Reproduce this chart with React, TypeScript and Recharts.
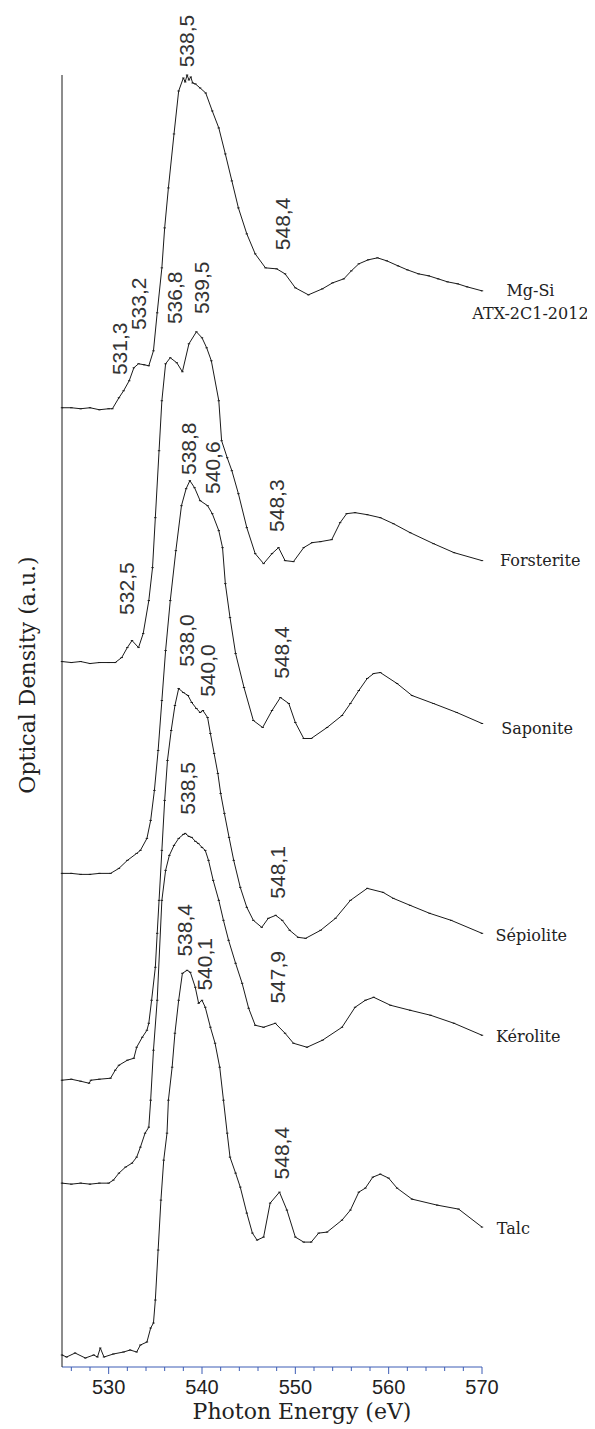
import { LineChart, Line, XAxis, YAxis, ReferenceDot, Label } from "recharts";

const AXIS_BLUE = "#3d5db5";
const INK = "#1a1a1a";
const SERIF = "'DejaVu Serif', 'Liberation Serif', serif";
const SANS = "'Liberation Sans', Arial, sans-serif";

// photon energy (eV) / optical density (a.u., stacking offset included)
const mgSiE = [525, 526, 527, 528, 529, 530, 530.4, 531.1, 531.6, 532.2, 532.7, 533.2, 533.8, 534.3, 534.8, 535.2, 535.7, 536.0, 536.4, 537.0, 537.5, 538.0, 538.2, 538.4, 538.6, 538.8, 539.0, 539.3, 539.8, 540.4, 541.1, 541.8, 542.5, 543.2, 543.9, 544.8, 545.7, 546.8, 548.0, 548.9, 550.0, 551.4, 552.9, 554.0, 555.2, 556.0, 556.8, 557.8, 558.8, 559.8, 561.0, 562.0, 563.2, 564.3, 565.3, 566.3, 567.4, 568.4, 570];
const mgSiOD = [9.6, 9.6, 9.59, 9.6, 9.58, 9.59, 9.59, 9.7, 9.77, 9.87, 10.0, 10.04, 10.03, 10.02, 10.17, 10.55, 11.0, 11.4, 11.8, 12.34, 12.77, 12.9, 12.86, 12.93, 12.88, 12.91, 12.85, 12.84, 12.8, 12.75, 12.57, 12.4, 12.14, 11.87, 11.6, 11.34, 11.14, 11.0, 10.99, 10.94, 10.8, 10.73, 10.79, 10.85, 10.89, 10.97, 11.04, 11.08, 11.1, 11.07, 11.02, 10.98, 10.94, 10.92, 10.89, 10.86, 10.84, 10.81, 10.77];

const forsteriteE = [525, 526, 527, 528, 529, 530, 530.7, 531.4, 532.0, 532.5, 533.2, 533.7, 534.3, 534.7, 535.0, 535.4, 535.7, 536.1, 536.6, 537.3, 537.9, 538.6, 539.4, 540.0, 540.5, 541.0, 541.8, 542.1, 542.7, 543.2, 543.9, 544.8, 545.7, 546.6, 547.5, 548.2, 548.9, 549.8, 550.9, 551.8, 552.7, 553.9, 554.8, 555.5, 556.4, 557.7, 559.1, 560.5, 562.3, 564.8, 567.0, 570];
const forsteriteOD = [7.06, 7.05, 7.06, 7.04, 7.05, 7.05, 7.05, 7.1, 7.2, 7.27, 7.2, 7.34, 7.67, 8.0, 8.5, 9.17, 9.67, 10.04, 10.1, 10.05, 9.96, 10.24, 10.36, 10.3, 10.2, 10.07, 9.67, 9.27, 9.1, 8.97, 8.74, 8.4, 8.14, 8.04, 8.14, 8.2, 8.07, 8.06, 8.2, 8.25, 8.26, 8.28, 8.45, 8.54, 8.55, 8.53, 8.5, 8.44, 8.35, 8.24, 8.15, 8.07];

const saponiteE = [525, 526, 527, 528, 529, 530.2, 531.1, 532.0, 533.0, 533.4, 534.1, 534.5, 534.9, 535.3, 535.7, 536.1, 536.6, 537.2, 537.8, 538.3, 538.7, 539.2, 539.8, 540.6, 541.1, 541.8, 542.2, 542.5, 543.0, 543.6, 544.5, 545.5, 546.5, 547.5, 548.4, 549.3, 550.0, 550.9, 551.7, 553.4, 555.0, 555.9, 556.8, 557.7, 558.4, 559.1, 560.9, 562.5, 564.8, 567.3, 570];
const saponiteOD = [4.94, 4.94, 4.93, 4.93, 4.94, 4.94, 4.99, 5.07, 5.14, 5.17, 5.29, 5.47, 5.77, 6.17, 6.67, 7.17, 7.67, 8.17, 8.62, 8.79, 8.87, 8.8, 8.67, 8.62, 8.54, 8.37, 8.2, 7.84, 7.5, 7.14, 6.8, 6.47, 6.4, 6.57, 6.7, 6.64, 6.45, 6.29, 6.29, 6.4, 6.52, 6.64, 6.77, 6.89, 6.94, 6.95, 6.84, 6.72, 6.64, 6.55, 6.44];

const sepioliteE = [525, 526, 527, 527.9, 528.1, 529, 530.2, 530.7, 531.1, 532.0, 532.7, 533.0, 533.6, 534.1, 534.3, 534.6, 535.0, 535.2, 535.4, 535.7, 536.0, 536.3, 536.7, 537.1, 537.5, 538.0, 538.5, 538.9, 539.4, 539.8, 540.1, 540.6, 540.9, 541.3, 541.7, 542.0, 542.4, 542.9, 543.4, 544.1, 544.8, 545.5, 546.4, 547.1, 547.9, 548.6, 549.4, 550.3, 551.1, 552.7, 554.3, 555.9, 557.7, 559.4, 560.5, 562.3, 564.4, 566.7, 570];
const sepioliteOD = [2.87, 2.88, 2.86, 2.84, 2.87, 2.88, 2.89, 2.97, 3.02, 3.07, 3.09, 3.2, 3.3, 3.37, 3.44, 3.67, 4.0, 4.34, 4.67, 5.17, 5.67, 6.07, 6.37, 6.62, 6.79, 6.75, 6.72, 6.65, 6.59, 6.55, 6.57, 6.5, 6.34, 6.14, 5.94, 5.74, 5.54, 5.3, 5.07, 4.8, 4.6, 4.47, 4.4, 4.49, 4.52, 4.47, 4.37, 4.3, 4.29, 4.37, 4.49, 4.67, 4.79, 4.75, 4.69, 4.62, 4.54, 4.47, 4.34];

const keroliteE = [525, 526, 527, 528, 529, 530, 530.5, 531.1, 531.8, 532.5, 533.0, 533.4, 533.9, 534.3, 534.5, 534.8, 535.2, 535.7, 536.1, 536.5, 537.0, 537.5, 538.0, 538.2, 538.6, 538.9, 539.3, 539.6, 540.0, 540.35, 540.7, 541.2, 541.8, 542.3, 542.85, 543.6, 544.3, 545.0, 545.7, 546.6, 547.85, 548.9, 549.8, 551.25, 552.9, 555.0, 556.4, 557.5, 558.4, 560.2, 562.3, 564.5, 567.0, 570];
const keroliteOD = [1.84, 1.83, 1.84, 1.83, 1.84, 1.84, 1.87, 1.94, 2.0, 2.04, 2.1, 2.2, 2.34, 2.4, 2.67, 3.17, 3.67, 4.67, 4.97, 5.12, 5.22, 5.29, 5.33, 5.34, 5.31, 5.3, 5.26, 5.24, 5.2, 5.17, 5.07, 4.87, 4.67, 4.47, 4.27, 4.04, 3.84, 3.59, 3.42, 3.4, 3.44, 3.34, 3.24, 3.2, 3.27, 3.4, 3.6, 3.67, 3.7, 3.62, 3.57, 3.52, 3.44, 3.32];

const talcE = [525, 525.5, 526.4, 527.5, 528.4, 528.8, 529.1, 529.5, 530.5, 531.6, 532.3, 533.0, 533.4, 534.1, 534.5, 534.8, 535.0, 535.3, 535.6, 535.9, 536.25, 536.4, 536.8, 537.1, 537.5, 537.9, 538.4, 538.75, 539.28, 539.64, 540.0, 540.35, 540.9, 541.4, 541.9, 542.3, 542.7, 543.0, 543.6, 544.1, 544.8, 545.4, 545.9, 546.6, 547.3, 548.3, 549.1, 550.0, 550.9, 551.7, 552.5, 553.4, 555.0, 555.9, 556.8, 557.5, 558.3, 559.1, 560.0, 560.9, 562.5, 565.2, 567.5, 570];
const talcOD = [0.12, 0.1, 0.14, 0.09, 0.12, 0.1, 0.19, 0.1, 0.13, 0.15, 0.17, 0.15, 0.22, 0.25, 0.39, 0.44, 0.67, 1.17, 1.67, 2.07, 2.34, 2.67, 3.0, 3.34, 3.67, 3.94, 3.97, 3.95, 3.8, 3.64, 3.67, 3.6, 3.4, 3.24, 3.0, 2.67, 2.34, 2.1, 1.94, 1.8, 1.54, 1.34, 1.27, 1.3, 1.64, 1.75, 1.57, 1.3, 1.25, 1.25, 1.34, 1.35, 1.47, 1.57, 1.75, 1.79, 1.9, 1.93, 1.89, 1.79, 1.68, 1.62, 1.58, 1.4];

const energyTicks = [526, 528, 530, 532, 534, 536, 538, 540, 542, 544, 546, 548, 550, 552, 554, 556, 558, 560, 562, 564, 566, 568, 570];

// peak annotations, written vertically
const peakLabels = [
  { text: "538,5", e: 538.32, od: 13.27 },
  { text: "548,4", e: 548.6, od: 11.44 },
  { text: "531,3", e: 531.14, od: 10.19 },
  { text: "533,2", e: 533.18, od: 10.64 },
  { text: "536,8", e: 537.03, od: 10.7 },
  { text: "539,5", e: 539.93, od: 10.8 },
  { text: "538,8", e: 538.53, od: 9.19 },
  { text: "540,6", e: 541.1, od: 9.0 },
  { text: "548,3", e: 547.96, od: 8.62 },
  { text: "532,5", e: 531.89, od: 7.79 },
  { text: "538,0", e: 538.32, od: 7.27 },
  { text: "540,0", e: 540.57, od: 6.97 },
  { text: "548,4", e: 548.5, od: 7.15 },
  { text: "538,5", e: 538.43, od: 5.79 },
  { text: "548,1", e: 548.07, od: 4.95 },
  { text: "538,4", e: 538.1, od: 4.37 },
  { text: "540,1", e: 540.25, od: 4.03 },
  { text: "547,9", e: 548.07, od: 3.9 },
  { text: "548,4", e: 548.5, od: 2.14 },
];

const sampleNames = [
  { text: "Mg-Si", e: 575.19, od: 10.77 },
  { text: "ATX-2C1-2012", e: 575.19, od: 10.54 },
  { text: "Forsterite", e: 576.24, od: 8.07 },
  { text: "Saponite", e: 575.9, od: 6.39 },
  { text: "Sépiolite", e: 575.28, od: 4.32 },
  { text: "Kérolite", e: 574.96, od: 3.31 },
  { text: "Talc", e: 573.36, od: 1.39 },
];

const zip = (e: number[], od: number[]) => e.map((v, i) => ({ e: v, od: od[i] }));

const spectra = [
  { name: "Mg-Si", data: zip(mgSiE, mgSiOD) },
  { name: "Forsterite", data: zip(forsteriteE, forsteriteOD) },
  { name: "Saponite", data: zip(saponiteE, saponiteOD) },
  { name: "Sépiolite", data: zip(sepioliteE, sepioliteOD) },
  { name: "Kérolite", data: zip(keroliteE, keroliteOD) },
  { name: "Talc", data: zip(talcE, talcOD) },
];

function EnergyTick({ x, y, payload }: any) {
  const major = payload.value % 10 === 0;
  return (
    <g>
      <line x1={x} x2={x} y1={y} y2={y + (major ? 7 : 4)} stroke={AXIS_BLUE} strokeWidth={1} />
      {major && (
        <text x={x} y={y + 27} textAnchor="middle" fontFamily={SANS} fontSize={20} fill="#222">
          {payload.value}
        </text>
      )}
    </g>
  );
}

const PointTick = ({ cx, cy }: any) =>
  cx == null ? null : <line x1={cx - 1.2} x2={cx + 1.2} y1={cy} y2={cy} stroke={INK} strokeWidth={1} />;

export default function App() {
  return (
    <LineChart width={587} height={1421} margin={{ top: 67, right: 113, bottom: 0, left: 0 }}>
      <XAxis
        type="number"
        dataKey="e"
        domain={[525, 570]}
        ticks={energyTicks}
        interval={0}
        height={62}
        tickSize={0}
        tickMargin={0}
        tickLine={false}
        axisLine={{ stroke: AXIS_BLUE, strokeWidth: 1 }}
        tick={<EnergyTick />}
      >
        <Label
          content={({ viewBox }: any) => (
            <text
              x={viewBox.x + viewBox.width / 2 + 30}
              y={viewBox.y + 52}
              textAnchor="middle"
              fontFamily={SERIF}
              fontSize={22}
              fill="#222"
            >
              Photon Energy (eV)
            </text>
          )}
        />
      </XAxis>
      <YAxis
        type="number"
        dataKey="od"
        domain={[0, 12.92]}
        width={54}
        tick={false}
        tickLine={false}
        axisLine={{ stroke: INK, strokeWidth: 1 }}
      >
        <Label
          content={({ viewBox }: any) => {
            const cx = viewBox.x + 19;
            const cy = viewBox.y + viewBox.height / 2 - 46;
            return (
              <text
                x={cx}
                y={cy}
                transform={`rotate(-90, ${cx}, ${cy})`}
                textAnchor="middle"
                dominantBaseline="central"
                fontFamily={SERIF}
                fontSize={22}
                fill="#222"
              >
                Optical Density (a.u.)
              </text>
            );
          }}
        />
      </YAxis>
      {spectra.map((s) => (
        <Line
          key={s.name}
          data={s.data}
          dataKey="od"
          type="linear"
          stroke={INK}
          strokeWidth={1}
          dot={<PointTick />}
          activeDot={false}
          isAnimationActive={false}
        />
      ))}
      {peakLabels.map((p, i) => (
        <ReferenceDot
          key={`pk-${i}`}
          x={p.e}
          y={p.od}
          ifOverflow="visible"
          shape={({ cx, cy }: any) => (
            <text
              x={cx}
              y={cy}
              transform={`rotate(-90, ${cx}, ${cy})`}
              textAnchor="middle"
              dominantBaseline="central"
              fontFamily={SANS}
              fontSize={21}
              fill="#333"
            >
              {p.text}
            </text>
          )}
        />
      ))}
      {sampleNames.map((n, i) => (
        <ReferenceDot
          key={`nm-${i}`}
          x={n.e}
          y={n.od}
          ifOverflow="visible"
          shape={({ cx, cy }: any) => (
            <text
              x={cx}
              y={cy}
              textAnchor="middle"
              dominantBaseline="central"
              fontFamily={SERIF}
              fontSize={16}
              fill="#222"
            >
              {n.text}
            </text>
          )}
        />
      ))}
    </LineChart>
  );
}
